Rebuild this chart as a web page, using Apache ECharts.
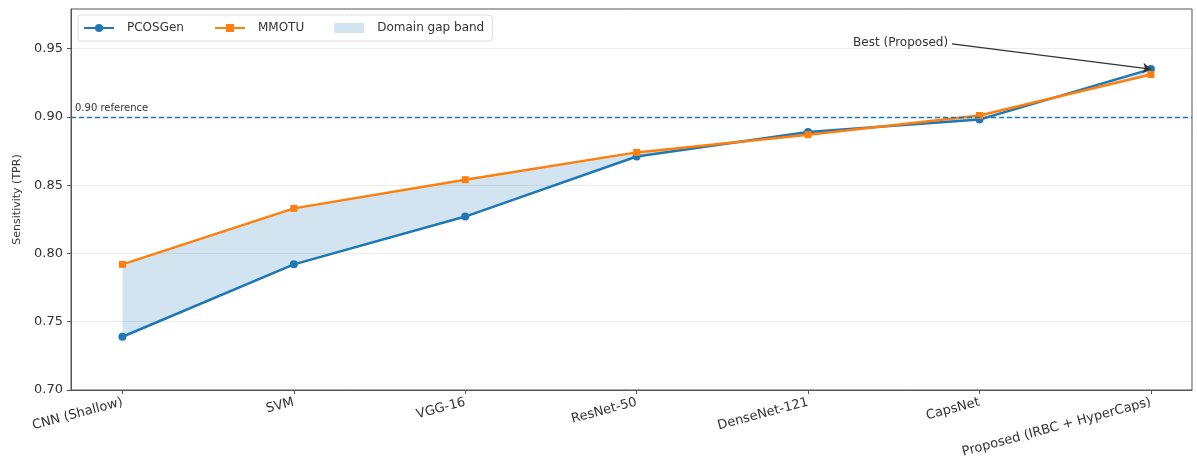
<!DOCTYPE html>
<html>
<head>
<meta charset="utf-8">
<script src="https://cdn.jsdelivr.net/npm/echarts@6/dist/echarts.min.js"></script>
<style>
  html, body { margin: 0; padding: 0; background: #fff; }
  #chart { width: 1197px; height: 465px; }
</style>
</head>
<body>
<div id="chart"></div>
<script>
// Model names along the x axis
const models = ['CNN (Shallow)', 'SVM', 'VGG-16', 'ResNet-50', 'DenseNet-121', 'CapsNet', 'Proposed (IRBC + HyperCaps)'];
// Sensitivity (TPR) per dataset
const pcosgen = [0.739, 0.792, 0.827, 0.871, 0.889, 0.898, 0.935];
const mmotu   = [0.792, 0.833, 0.854, 0.874, 0.887, 0.901, 0.931];
// Y axis ticks
const yTicks = [0.70, 0.75, 0.80, 0.85, 0.90, 0.95];
const referenceLevel = 0.90;
// Annotation: text anchor and target point
const bestLabel = 'Best (Proposed)';
const bestFrom = [4.84, 0.9535];

const BLUE = '#1f77b4';
const ORANGE = '#ff7f0e';
const BAND = 'rgba(31,119,180,0.2)';
const FONT = 'DejaVu Sans';

const idx = models.map((_, i) => i);
const bestIdx = models.length - 1;

const chart = echarts.init(document.getElementById('chart'), null, { renderer: 'canvas' });

chart.setOption({
  animation: false,
  textStyle: { fontFamily: FONT },
  grid: {
    left: 71, right: 5, top: 9, bottom: 75,
    show: true, borderColor: '#555', borderWidth: 1
  },
  legend: {
    left: 78, top: 15,
    padding: [7, 8, 7, 5],
    borderColor: '#dcdcdc', borderWidth: 1, borderRadius: 3,
    backgroundColor: 'rgba(255,255,255,0.85)',
    itemWidth: 30, itemHeight: 10, itemGap: 30,
    textStyle: { fontFamily: FONT, fontSize: 12, color: '#333', padding: [0, 0, 0, 8] },
    data: [
      { name: 'PCOSGen' },
      { name: 'MMOTU' },
      { name: 'Domain gap band', icon: 'rect', itemStyle: { color: BAND } }
    ]
  },
  xAxis: {
    type: 'value',
    min: -0.3, max: 6.24,
    axisLine: { show: true, onZero: false, lineStyle: { color: '#555', width: 1 } },
    axisTick: { show: true, customValues: idx, length: 4, lineStyle: { color: '#555' } },
    splitLine: { show: false },
    axisLabel: {
      customValues: idx,
      rotate: 15, margin: 12,
      fontFamily: FONT, fontSize: 13, color: '#333',
      formatter: v => models[Math.round(v)]
    }
  },
  yAxis: {
    type: 'value',
    min: 0.70, max: 0.979,
    name: 'Sensitivity (TPR)',
    nameLocation: 'middle', nameRotate: 90, nameGap: 48,
    nameTextStyle: { fontFamily: FONT, fontSize: 11, color: '#333' },
    axisLine: { show: true, onZero: false, lineStyle: { color: '#555', width: 1 } },
    axisTick: { show: true, customValues: yTicks, length: 4, lineStyle: { color: '#555' } },
    axisLabel: {
      customValues: yTicks, margin: 8,
      fontFamily: FONT, fontSize: 13, color: '#333',
      formatter: v => v.toFixed(2)
    },
    splitLine: { show: true, lineStyle: { color: 'rgba(0,0,0,0.07)', width: 1 } }
  },
  series: [
    {
      // Filled region between the two dataset curves
      name: 'Domain gap band', type: 'custom', silent: true,
      itemStyle: { color: BAND },
      data: [[0, pcosgen[0]]],
      renderItem: (params, api) => {
        const top = idx.map(i => api.coord([i, mmotu[i]]));
        const bottom = idx.map(i => api.coord([i, pcosgen[i]])).reverse();
        return {
          type: 'polygon',
          shape: { points: top.concat(bottom) },
          style: { fill: BAND, stroke: 'none' }
        };
      },
      z: 1
    },
    {
      name: 'PCOSGen', type: 'line',
      data: idx.map(i => [i, pcosgen[i]]),
      symbol: 'circle', symbolSize: 8,
      lineStyle: { color: BLUE, width: 2.5 },
      itemStyle: { color: BLUE },
      z: 3,
      markLine: {
        silent: true,
        symbol: ['none', 'none'],
        data: [
          {
            yAxis: referenceLevel,
            lineStyle: { color: BLUE, type: [5, 3], width: 1.3 },
            label: {
              show: true, position: 'insideStartTop', distance: [4, 3],
              formatter: '0.90 reference',
              fontFamily: FONT, fontSize: 10, color: '#333'
            }
          },
          [
            {
              coord: bestFrom,
              symbol: 'none',
              lineStyle: { color: '#333', width: 1.2, type: 'solid' },
              label: {
                show: true, position: 'start', distance: 4,
                formatter: bestLabel,
                fontFamily: FONT, fontSize: 12, color: '#333'
              }
            },
            { coord: [bestIdx, pcosgen[bestIdx]], symbol: 'arrow', symbolSize: 8 }
          ]
        ]
      }
    },
    {
      name: 'MMOTU', type: 'line',
      data: idx.map(i => [i, mmotu[i]]),
      symbol: 'rect', symbolSize: 7,
      lineStyle: { color: ORANGE, width: 2.5 },
      itemStyle: { color: ORANGE },
      z: 4
    }
  ]
});
</script>
</body>
</html>
